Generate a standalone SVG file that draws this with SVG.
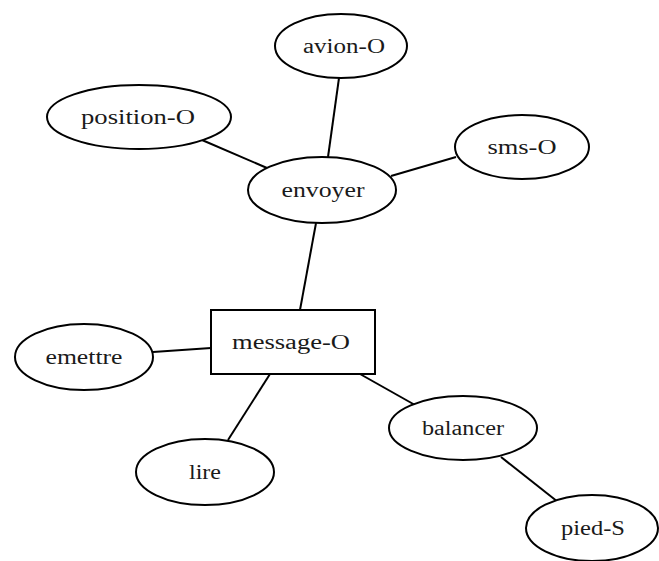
<svg xmlns="http://www.w3.org/2000/svg" width="659" height="561" viewBox="0 0 659 561">
  <style>
    .node ellipse, .node rect { fill: #ffffff; stroke: #000000; stroke-width: 2; }
    .node text { font-family: "Liberation Serif", "Times New Roman", serif; font-size: 20px; fill: #1a1a1a; text-anchor: middle; }
    #edges line { stroke: #000000; stroke-width: 2; }
  </style>
  <rect width="659" height="561" fill="#ffffff"/>

  <!-- connectors -->
  <g id="edges">
    <line x1="202" y1="140" x2="267" y2="168"/>
    <line x1="339" y1="78" x2="328" y2="157"/>
    <line x1="456" y1="157" x2="391" y2="176"/>
    <line x1="316" y1="223" x2="300" y2="310"/>
    <line x1="153" y1="352" x2="211" y2="348"/>
    <line x1="270" y1="374" x2="228" y2="440"/>
    <line x1="360" y1="374" x2="415" y2="405"/>
    <line x1="501" y1="457" x2="558" y2="502"/>
  </g>

  <!-- nodes -->
  <g id="avion-O" class="node">
    <ellipse cx="341" cy="46" rx="66" ry="32"/>
    <text x="344" y="53" textLength="82" lengthAdjust="spacingAndGlyphs">avion-O</text>
  </g>
  <g id="position-O" class="node">
    <ellipse cx="139" cy="117" rx="92" ry="32"/>
    <text x="138" y="124" textLength="114" lengthAdjust="spacingAndGlyphs">position-O</text>
  </g>
  <g id="sms-O" class="node">
    <ellipse cx="522" cy="147" rx="67" ry="32"/>
    <text x="522" y="154" textLength="69" lengthAdjust="spacingAndGlyphs">sms-O</text>
  </g>
  <g id="envoyer" class="node">
    <ellipse cx="322" cy="190" rx="74" ry="33"/>
    <text x="323" y="197" textLength="83" lengthAdjust="spacingAndGlyphs">envoyer</text>
  </g>
  <g id="message-O" class="node">
    <rect x="211" y="310" width="164" height="64"/>
    <text x="291" y="349" textLength="118" lengthAdjust="spacingAndGlyphs">message-O</text>
  </g>
  <g id="emettre" class="node">
    <ellipse cx="84" cy="357" rx="69" ry="33"/>
    <text x="84" y="364" textLength="77" lengthAdjust="spacingAndGlyphs">emettre</text>
  </g>
  <g id="lire" class="node">
    <ellipse cx="205" cy="472" rx="69" ry="33"/>
    <text x="205" y="479" textLength="32" lengthAdjust="spacingAndGlyphs">lire</text>
  </g>
  <g id="balancer" class="node">
    <ellipse cx="463" cy="428" rx="74" ry="32"/>
    <text x="463" y="435" textLength="82" lengthAdjust="spacingAndGlyphs">balancer</text>
  </g>
  <g id="pied-S" class="node">
    <ellipse cx="592" cy="528" rx="66" ry="33"/>
    <text x="593" y="535" textLength="64" lengthAdjust="spacingAndGlyphs">pied-S</text>
  </g>
</svg>
